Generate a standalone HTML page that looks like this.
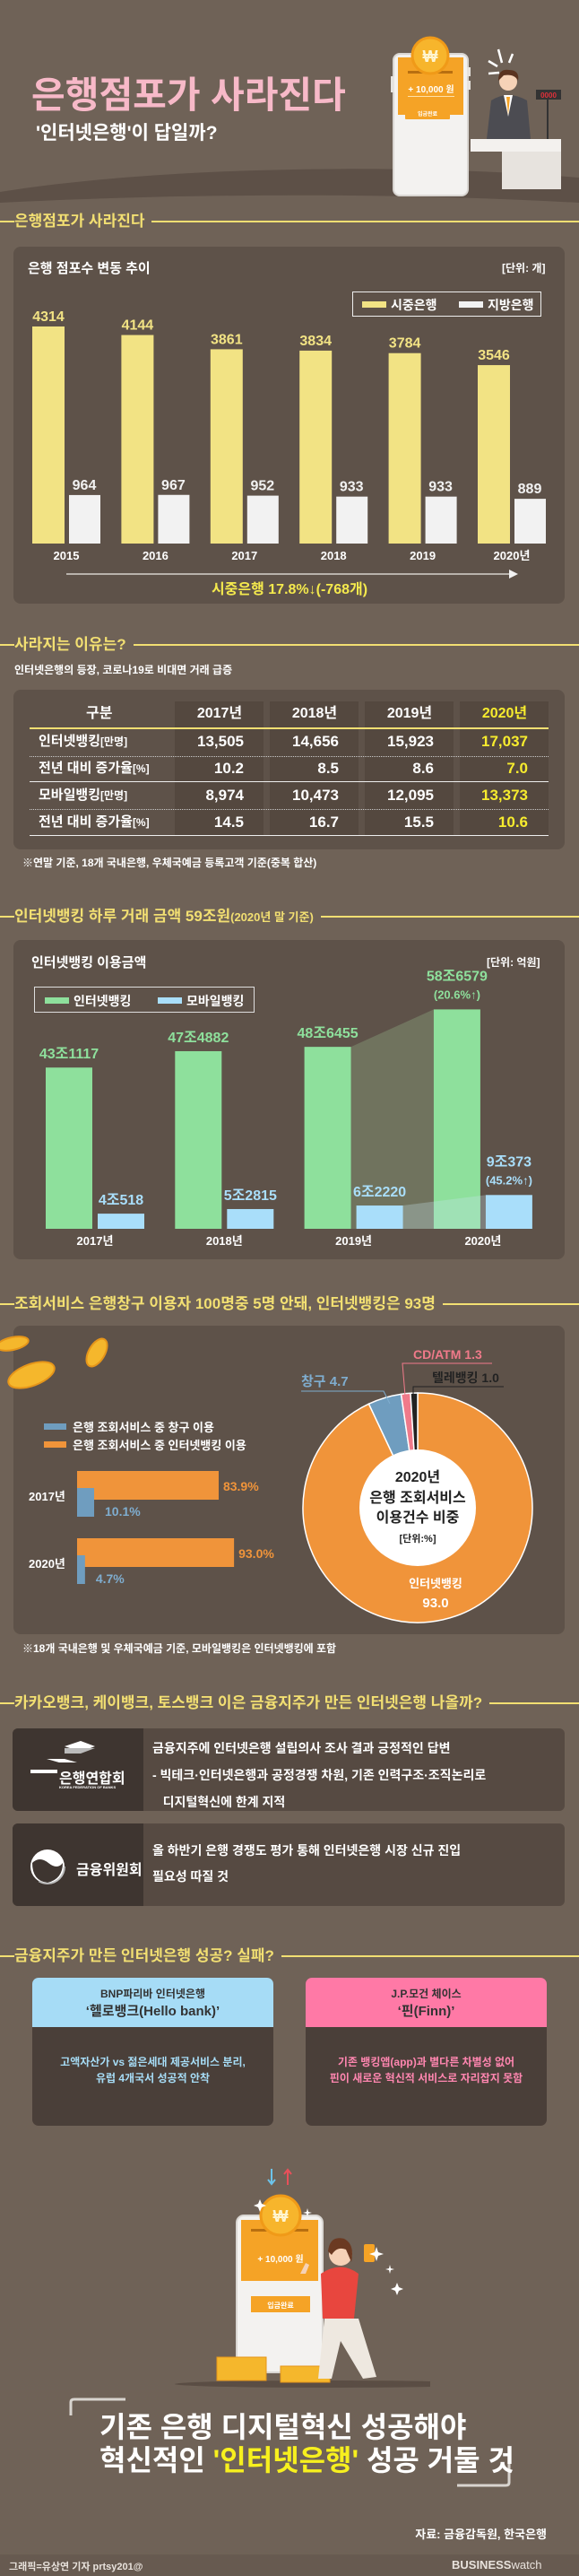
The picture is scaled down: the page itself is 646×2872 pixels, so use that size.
<!DOCTYPE html>
<html lang="ko"><head><meta charset="utf-8">
<style>
*{margin:0;padding:0;box-sizing:border-box}
body{width:646px;height:2872px;background:#6f6257;position:relative;overflow:hidden;font-family:"Liberation Sans","Noto Sans CJK KR",sans-serif;font-weight:bold;color:#fff}
.a{position:absolute}
.sh{position:absolute;left:0;width:646px;height:24px}
.sh .l1{position:absolute;left:0;top:11px;width:9px;height:2px;background:#f2df72}
.sh .t{position:absolute;left:16px;top:0;font-size:17px;color:#f2df72;white-space:nowrap;background:#6f6257;padding-right:8px;line-height:24px;z-index:2}
.sh .l2{position:absolute;left:0;right:0;top:11px;height:2px;background:#f2df72}
.panel{position:absolute;left:15px;width:615px;background:#5e5249;border-radius:8px}
.td{position:absolute;font-size:17px;line-height:20px;text-align:right;white-space:nowrap}
.lab{position:absolute;left:43px;font-size:15px;line-height:20px;white-space:nowrap}
.lab small{font-size:12px;line-height:12px}
</style></head><body>

<!-- header -->
<svg class="a" style="left:0;top:0" width="646" height="240">
<path d="M0 214 C160 188 430 180 646 198 L646 226 C430 214 200 216 0 226 Z" fill="#5d5047"/>
<rect x="439" y="60" width="83" height="158" rx="7" fill="#f3f2f0" stroke="#d9d6d2" stroke-width="2"/>
<rect x="436" y="85" width="4" height="18" fill="#e6e3df"/>
<rect x="521" y="75" width="4" height="10" fill="#e6e3df"/><rect x="521" y="90" width="4" height="10" fill="#e6e3df"/>
<rect x="444" y="64" width="73" height="64" fill="#f5a326"/>
<rect x="455" y="79" width="50" height="3" fill="#b86f10"/>
<circle cx="480" cy="62" r="20" fill="#f7b52c" stroke="#f09a18" stroke-width="3"/>
<text x="480" y="69" font-size="18" text-anchor="middle" fill="#fff5d0">₩</text>
<text x="481" y="103" font-size="10" text-anchor="middle" fill="#fff">+ 10,000 원</text>
<rect x="455" y="107" width="52" height="1" fill="#ffe1a8"/>
<rect x="452" y="119" width="50" height="14" rx="1" fill="#f5a326"/>
<text x="477" y="129" font-size="6" text-anchor="middle" fill="#fff">입금완료</text>
<path d="M556 55 l4 15 M572 60 l-4 10 M545 68 l10 6 M545 82 l12 -1" stroke="#fff" stroke-width="2.5"/>
<path d="M543 155 L548 112 Q567 100 588 112 L592 155 Z" fill="#4c4c52"/>
<path d="M562 106 L572 106 L567 130 Z" fill="#fff"/><path d="M565 108 L569 108 L567 128 Z" fill="#f5a326"/>
<circle cx="567" cy="91" r="10" fill="#f6d2b7"/>
<path d="M556 90 Q556 76 568 78 Q580 78 578 90 Q574 82 562 84 Z" fill="#5a3320"/>
<rect x="598" y="100" width="28" height="11" fill="#333"/><text x="612" y="109" font-size="8" text-anchor="middle" fill="#e0303a">0000</text>
<rect x="610" y="111" width="2" height="44" fill="#333"/>
<rect x="525" y="155" width="101" height="14" fill="#f3f1ee"/>
<rect x="560" y="169" width="66" height="42" fill="#e7e3de"/>
</svg>
<div class="a" style="left:35px;top:72px;font-size:41px;color:#f7b9c8;white-space:nowrap">은행점포가 사라진다</div>
<div class="a" style="left:40px;top:132px;font-size:21px;color:#fff;white-space:nowrap">'인터넷은행'이 답일까?</div>

<!-- section 1 -->
<div class="sh" style="top:235px"><div class="l2"></div><div class="l1"></div><div class="t">은행점포가 사라진다</div></div>
<div class="panel" style="top:275px;height:398px"></div>
<div class="a" style="left:31px;top:288px;font-size:15px">은행 점포수 변동 추이</div>
<div class="a" style="left:560px;top:290px;font-size:12px">[단위: 개]</div>
<div class="a" style="left:393px;top:325px;width:211px;height:28px;border:1px solid #eee">
 <div class="a" style="left:10px;top:10px;width:27px;height:7px;background:#f2e384"></div>
 <div class="a" style="left:42px;top:4px;font-size:14px">시중은행</div>
 <div class="a" style="left:118px;top:10px;width:27px;height:7px;background:#f2f2f2"></div>
 <div class="a" style="left:150px;top:4px;font-size:14px">지방은행</div>
</div>
<svg id="c1" class="a" style="left:0;top:275px" width="646" height="400"></svg>

<!-- section 2 -->
<div class="sh" style="top:707px"><div class="l2"></div><div class="l1"></div><div class="t">사라지는 이유는?</div></div>
<div class="a" style="left:16px;top:738px;font-size:12px">인터넷은행의 등장, 코로나19로 비대면 거래 급증</div>
<div class="panel" style="top:769px;height:178px"></div>
<div class="a" style="left:195px;top:782px;width:99px;height:150px;background:#54483f"></div>
<div class="a" style="left:301px;top:782px;width:99px;height:150px;background:#54483f"></div>
<div class="a" style="left:407px;top:782px;width:99px;height:150px;background:#54483f"></div>
<div class="a" style="left:513px;top:782px;width:99px;height:150px;background:#54483f"></div>
<div class="a" style="left:33px;top:811px;width:579px;height:2px;background:#f2df72"></div>
<div class="a" style="left:33px;top:843px;width:579px;border-top:1px dotted #ccc"></div>
<div class="a" style="left:33px;top:871px;width:579px;height:1px;background:#eee"></div>
<div class="a" style="left:33px;top:902px;width:579px;border-top:1px dotted #ccc"></div>
<div class="a" style="left:33px;top:931px;width:579px;height:1px;background:#eee"></div>
<div id="tbl"></div>
<div class="a" style="left:25px;top:953px;font-size:12px">※연말 기준, 18개 국내은행, 우체국예금 등록고객 기준(중복 합산)</div>

<!-- section 3 -->
<div class="sh" style="top:1010px"><div class="l2"></div><div class="l1"></div><div class="t">인터넷뱅킹 하루 거래 금액 59조원<span style="font-size:13px">(2020년 말 기준)</span></div></div>
<div class="panel" style="top:1048px;height:356px"></div>
<div class="a" style="left:35px;top:1062px;font-size:15px">인터넷뱅킹 이용금액</div>
<div class="a" style="left:543px;top:1064px;font-size:12px">[단위: 억원]</div>
<div class="a" style="left:38px;top:1100px;width:246px;height:29px;border:1px solid #ddd">
 <div class="a" style="left:11px;top:11px;width:27px;height:7px;background:#8ee09c"></div>
 <div class="a" style="left:43px;top:5px;font-size:14px">인터넷뱅킹</div>
 <div class="a" style="left:137px;top:11px;width:27px;height:7px;background:#a9defa"></div>
 <div class="a" style="left:169px;top:5px;font-size:14px">모바일뱅킹</div>
</div>
<svg id="c3" class="a" style="left:0;top:1048px" width="646" height="356"></svg>

<!-- section 4 -->
<div class="sh" style="top:1442px"><div class="l2"></div><div class="l1"></div><div class="t">조회서비스 은행창구 이용자 100명중 5명 안돼, 인터넷뱅킹은 93명</div></div>
<div class="panel" style="top:1478px;height:344px"></div>
<svg class="a" style="left:0;top:1478px" width="160" height="90">
<ellipse cx="14" cy="20" rx="18" ry="7" fill="#f5b72c" stroke="#e5951a" stroke-width="2" transform="rotate(-12 14 20)"/>
<ellipse cx="108" cy="30" rx="9" ry="17" fill="#f5b72c" stroke="#e5951a" stroke-width="2" transform="rotate(30 108 30)"/>
<ellipse cx="35" cy="55" rx="27" ry="12" fill="#f5b72c" stroke="#e5951a" stroke-width="2" transform="rotate(-20 35 55)"/>
</svg>
<div class="a" style="left:49px;top:1587px;width:25px;height:7px;background:#6f9dbf"></div>
<div class="a" style="left:81px;top:1581px;font-size:13px">은행 조회서비스 중 창구 이용</div>
<div class="a" style="left:49px;top:1607px;width:25px;height:7px;background:#f0943a"></div>
<div class="a" style="left:81px;top:1601px;font-size:13px">은행 조회서비스 중 인터넷뱅킹 이용</div>
<svg id="c4" class="a" style="left:0;top:1478px" width="646" height="344"></svg>
<div class="a" style="left:25px;top:1829px;font-size:12px">※18개 국내은행 및 우체국예금 기준, 모바일뱅킹은 인터넷뱅킹에 포함</div>

<!-- section 5 -->
<div class="sh" style="top:1887px"><div class="l2"></div><div class="l1"></div><div class="t">카카오뱅크, 케이뱅크, 토스뱅크 이은 금융지주가 만든 인터넷은행 나올까?</div></div>
<div class="a" style="left:14px;top:1927px;width:616px;height:92px;background:#564a42;border-radius:6px;overflow:hidden">
 <div class="a" style="left:0;top:0;width:146px;height:92px;background:#3e3530"></div>
 <svg class="a" style="left:0;top:0" width="146" height="92"><path d="M58 20 l18 -6 l16 6 l-16 6z" fill="#fff"/><path d="M58 22 l0 6 l18 0 l16 -6" fill="#bbb"/><path d="M38 34 l20 0 l14 4 l-20 0z" fill="#fff"/><path d="M20 46 l30 0 l0 4 l-30 0z" fill="#fff"/></svg>
 <div class="a" style="left:52px;top:42px;font-size:16px;white-space:nowrap">은행연합회</div>
 <div class="a" style="left:52px;top:63px;font-size:4px;white-space:nowrap">KOREA FEDERATION OF BANKS</div>
 <div class="a" style="left:156px;top:7px;font-size:14px;line-height:30px;white-space:nowrap">금융지주에 인터넷은행 설립의사 조사 결과 긍정적인 답변<br>- 빅테크·인터넷은행과 공정경쟁 차원, 기존 인력구조·조직논리로<br>&nbsp;&nbsp;&nbsp;디지털혁신에 한계 지적</div>
</div>
<div class="a" style="left:14px;top:2033px;width:616px;height:92px;background:#564a42;border-radius:6px;overflow:hidden">
 <div class="a" style="left:0;top:0;width:146px;height:92px;background:#3e3530"></div>
 <svg class="a" style="left:0;top:0" width="146" height="92"><circle cx="39" cy="48" r="19" fill="#fff"/><path d="M22 44 Q30 36 40 44 Q50 52 56 44 Q56 62 39 66 Q22 64 22 44Z" fill="#3e3530"/><circle cx="39" cy="48" r="19" fill="none" stroke="#bbb" stroke-width="2" stroke-dasharray="40 80"/></svg>
 <div class="a" style="left:71px;top:38px;font-size:16px;white-space:nowrap">금융위원회</div>
 <div class="a" style="left:156px;top:16px;font-size:14px;line-height:29px;white-space:nowrap">올 하반기 은행 경쟁도 평가 통해 인터넷은행 시장 신규 진입<br>필요성 따질 것</div>
</div>

<!-- section 6 -->
<div class="sh" style="top:2169px"><div class="l2"></div><div class="l1"></div><div class="t">금융지주가 만든 인터넷은행 성공? 실패?</div></div>
<div class="a" style="left:36px;top:2205px;width:269px;height:165px;border-radius:7px;background:#4a3f39;overflow:hidden">
 <div class="a" style="left:0;top:0;width:269px;height:55px;background:#a6dcf6;color:#333;text-align:center;font-size:12px;padding-top:8px;line-height:20px">BNP파리바 인터넷은행<br><span style="font-size:15px">‘헬로뱅크(Hello bank)’</span></div>
 <div class="a" style="left:0;top:85px;width:269px;text-align:center;font-size:12px;line-height:18px;color:#a6dcf6">고액자산가 vs 젊은세대 제공서비스 분리,<br>유럽 4개국서 성공적 안착</div>
</div>
<div class="a" style="left:341px;top:2205px;width:269px;height:165px;border-radius:7px;background:#4a3f39;overflow:hidden">
 <div class="a" style="left:0;top:0;width:269px;height:55px;background:#ff79a6;color:#333;text-align:center;font-size:12px;padding-top:8px;line-height:20px">J.P.모건 체이스<br><span style="font-size:15px">‘핀(Finn)’</span></div>
 <div class="a" style="left:0;top:85px;width:269px;text-align:center;font-size:12px;line-height:18px;color:#ff86b0">기존 뱅킹앱(app)과 별다른 차별성 없어<br>핀이 새로운 혁신적 서비스로 자리잡지 못함</div>
</div>

<svg class="a" style="left:180px;top:2410px" width="300" height="260">
<ellipse cx="185" cy="248" rx="170" ry="4" fill="#5a4d44"/>
<path d="M123 8 v16 M119 20 l4 5 l4 -5" stroke="#6cc3ea" stroke-width="2" fill="none"/>
<path d="M141 26 v-16 M137 14 l4 -5 l4 5" stroke="#e8505a" stroke-width="2" fill="none"/>
<rect x="84" y="60" width="96" height="175" rx="8" fill="#f3f2f0" stroke="#d9d6d2" stroke-width="2"/>
<rect x="89" y="65" width="86" height="68" fill="#f5a326"/>
<rect x="100" y="75" width="64" height="3" fill="#b86f10"/>
<circle cx="133" cy="60" r="22" fill="#f7b52c" stroke="#f09a18" stroke-width="3"/>
<text x="133" y="67" font-size="18" text-anchor="middle" fill="#fff5d0">₩</text>
<text x="133" y="112" font-size="10" text-anchor="middle" fill="#fff">+ 10,000 원</text>
<rect x="100" y="150" width="66" height="18" fill="#f5a326"/>
<text x="133" y="163" font-size="8" text-anchor="middle" fill="#fff">입금완료</text>
<rect x="62" y="218" width="55" height="26" fill="#f5b72c" stroke="#e5951a"/>
<rect x="133" y="228" width="55" height="18" fill="#f5b72c" stroke="#e5951a"/>
<path d="M178 125 Q200 110 220 125 L215 175 L180 175 Z" fill="#e8463e"/>
<path d="M182 175 L220 175 L240 240 L225 242 L200 200 L190 242 L175 242 Z" fill="#eee8e0"/>
<circle cx="200" cy="103" r="13" fill="#f6d2b7"/>
<path d="M186 100 Q188 82 204 86 Q216 92 212 112 L206 98 Q196 94 190 104 Z" fill="#6b3a22"/>
<rect x="226" y="92" width="12" height="20" rx="2" fill="#f5a326"/>
<path d="M155 125 l6 -12 l4 2 l-4 10 z" fill="#f6d2b7"/>
<path d="M240 95 l2 6 l6 2 l-6 2 l-2 6 l-2 -6 l-6 -2 l6 -2z M255 115 l1 4 l4 1 l-4 1 l-1 4 l-1 -4 l-4 -1 l4 -1z M263 135 l2 5 l5 2 l-5 2 l-2 5 l-2 -5 l-5 -2 l5 -2z M110 42 l2 5 l5 2 l-5 2 l-2 5 l-2 -5 l-5 -2 l5 -2z M163 52 l1 4 l4 1 l-4 1 l-1 4 l-1 -4 l-4 -1 l4 -1z" fill="#fff"/>
</svg>
<svg class="a" style="left:0;top:2670px" width="646" height="110">
<path d="M79 23 V8 Q79 5 83 5 H140" stroke="#d8d4cf" stroke-width="3" fill="none"/>
<path d="M568 74 V98 Q568 101 564 101 H510" stroke="#d8d4cf" stroke-width="3" fill="none"/>
</svg>
<div class="a" style="left:111px;top:2688px;font-size:32px;line-height:37px;white-space:nowrap">기존 은행 디지털혁신 성공해야<br>혁신적인 <span style="color:#f7f01e">'인터넷은행'</span> 성공 거둘 것</div>
<div class="a" style="left:450px;top:2815px;width:160px;text-align:right;font-size:13px">자료: 금융감독원, 한국은행</div>
<div class="a" style="left:0;top:2848px;width:646px;height:24px;background:#675a50"></div>
<div class="a" style="left:10px;top:2853px;font-size:11px;color:#e8e2dc">그래픽=유상연 기자 prtsy201@</div>
<div class="a" style="left:504px;top:2852px;font-size:13px;color:#e8e2dc;white-space:nowrap">BUSINESS<span style="font-weight:normal">watch</span></div>

<script>
const NS='http://www.w3.org/2000/svg';
function mk(svg,tag,attrs,txt){const e=document.createElementNS(NS,tag);for(const k in attrs)e.setAttribute(k,attrs[k]);if(txt!==undefined)e.textContent=txt;svg.appendChild(e);return e;}

// chart 1 data
const years1=['2015','2016','2017','2018','2019','2020년'];
const cityBranches=[4314,4144,3861,3834,3784,3546];
const localBranches=[964,967,952,933,933,889];
(function(){
 const s=document.getElementById('c1');const base=331,k=0.0561,x0=36,step=99.4;
 const y=v=>base-v*k;
 years1.forEach((yr,i)=>{
  const gx=x0+i*step;
  const b1=mk(s,'rect',{x:gx,y:y(cityBranches[i]),width:36,height:cityBranches[i]*k,fill:'#f2e384'});
  
  
  const b2=mk(s,'rect',{x:gx+41,y:y(localBranches[i]),width:35,height:localBranches[i]*k,fill:'#f2f2f2'});
  
  
  const t1=mk(s,'text',{x:gx+18,y:y(cityBranches[i])-6,'font-size':16,'text-anchor':'middle',fill:'#f2e384'},String(cityBranches[i]));
  
  
  const t2=mk(s,'text',{x:gx+58,y:y(localBranches[i])-6,'font-size':16,'text-anchor':'middle',fill:'#f2f2f2'},String(localBranches[i]));
  
  
  const t3=mk(s,'text',{x:gx+38,y:349,'font-size':13,'text-anchor':'middle',fill:'#fff'},yr);
  
  
 });
 mk(s,'line',{x1:74,y1:365,x2:570,y2:365,stroke:'#d6d1cc','stroke-width':1.5});
 mk(s,'path',{d:'M568 360 L578 365 L568 370 Z',fill:'#f2f2f2'});
 const n=mk(s,'text',{x:323,y:387,'font-size':16,'text-anchor':'middle',fill:'#f4e94d'},'시중은행 17.8%↓(-768개)');
 
 
})();

// table
const tHeaders=['2017년','2018년','2019년','2020년'];
const tLabels=['인터넷뱅킹<small>[만명]</small>','전년 대비 증가율<small>[%]</small>','모바일뱅킹<small>[만명]</small>','전년 대비 증가율<small>[%]</small>'];
const tRows=[['13,505','14,656','15,923','17,037'],['10.2','8.5','8.6','7.0'],['8,974','10,473','12,095','13,373'],['14.5','16.7','15.5','10.6']];
(function(){
 const T=document.getElementById('tbl');const rowY=[827,857,887,917];const right=[272,378,484,589];const ctr=[245,351,457,563];
 const h=document.createElement('div');h.className='a';h.style.cssText='left:96px;top:786px;font-size:16px;line-height:20px';h.textContent='구분';T.appendChild(h);
 
 
 tHeaders.forEach((t,j)=>{const d=document.createElement('div');d.className='a';d.style.cssText='left:'+(ctr[j]-40)+'px;width:80px;text-align:center;top:786px;font-size:16px;line-height:20px;color:'+(j==3?'#f7ec2e':'#fff');d.textContent=t;T.appendChild(d);
  
  });
 tLabels.forEach((l,i)=>{const d=document.createElement('div');d.className='lab';d.style.top=(rowY[i]-10)+'px';d.innerHTML=l;T.appendChild(d);
  
  
  tRows[i].forEach((v,j)=>{const c=document.createElement('div');c.className='td';c.style.cssText='left:'+(right[j]-90)+'px;width:90px;top:'+(rowY[i]-10)+'px;color:'+(j==3?'#f7ec2e':'#fff');c.textContent=v;T.appendChild(c);
   
   });});
})();

// chart 3 data
const years3=['2017년','2018년','2019년','2020년'];
const internetAmt=[431117,474882,486455,586579];
const mobileAmt=[40518,52815,62220,90373];
const internetLbl=['43조1117','47조4882','48조6455','58조6579'];
const mobileLbl=['4조518','5조2815','6조2220','9조373'];
(function(){
 const s=document.getElementById('c3');const base=322,k=0.000417,x0=51,step=144.3;
 const y=v=>base-v*k;
 const g3=x0+2*step,g4=x0+3*step;
 mk(s,'path',{d:`M${g3+52} ${y(internetAmt[2])} L${g4} ${y(internetAmt[3])} L${g4} ${base} L${g3+52} ${base} Z`,fill:'rgba(160,200,150,0.28)'});
 years3.forEach((yr,i)=>{
  const gx=x0+i*step;
  const b1=mk(s,'rect',{x:gx,y:y(internetAmt[i]),width:52,height:internetAmt[i]*k,fill:'#8ee09c'});
  
  
  const b2=mk(s,'rect',{x:gx+58,y:y(mobileAmt[i]),width:52,height:mobileAmt[i]*k,fill:'#a9defa'});
  
  
  const lastOff=i==3?22:0;
  const t1=mk(s,'text',{x:gx+26,y:y(internetAmt[i])-10-lastOff,'font-size':16,'text-anchor':'middle',fill:'#8ee09c'},internetLbl[i]);
  
  
  const t2=mk(s,'text',{x:gx+84,y:y(mobileAmt[i])-10-lastOff,'font-size':16,'text-anchor':'middle',fill:'#a9defa'},mobileLbl[i]);
  
  
  const t3=mk(s,'text',{x:gx+55,y:340,'font-size':13,'text-anchor':'middle',fill:'#fff'},yr);
  
  
 });
 mk(s,'path',{d:`M${g3+110} ${y(mobileAmt[2])} L${g4+58} ${y(mobileAmt[3])} L${g4+58} ${base} L${g3+110} ${base} Z`,fill:'rgba(200,230,240,0.3)'});
 const p1=mk(s,'text',{x:g4+26,y:y(internetAmt[3])-12,'font-size':13,'text-anchor':'middle',fill:'#8ee09c'},'(20.6%↑)');
 
 
 const p2=mk(s,'text',{x:g4+84,y:y(mobileAmt[3])-12,'font-size':13,'text-anchor':'middle',fill:'#a9defa'},'(45.2%↑)');
 
 
})();

// chart 4 data
const hbarYears=['2017년','2020년'];
const internetShare=[83.9,93.0];
const counterShare=[10.1,4.7];
const pieLabels=['인터넷뱅킹','창구','CD/ATM','텔레뱅킹'];
const pieValues=[93.0,4.7,1.3,1.0];
const pieColors=['#f0943a','#6f9dbf','#f07a8a','#222222'];
(function(){
 const s=document.getElementById('c4');const x0=86,k=1.883;const rowTop=[162,237];
 hbarYears.forEach((yr,i)=>{
  const r=rowTop[i];
  const o=mk(s,'rect',{x:x0,y:r,width:internetShare[i]*k,height:32,fill:'#f0943a'});
  
  
  const b=mk(s,'rect',{x:x0,y:r+19,width:counterShare[i]*k,height:32,fill:'#6f9dbf'});
  
  
  const t1=mk(s,'text',{x:x0+internetShare[i]*k+5,y:r+22,'font-size':14,fill:'#f0943a'},internetShare[i].toFixed(1)+'%');
  
  
  const t2=mk(s,'text',{x:x0+counterShare[i]*k+12,y:r+50,'font-size':14,fill:'#7fadcf'},counterShare[i].toFixed(1)+'%');
  
  
  const t3=mk(s,'text',{x:32,y:r+33,'font-size':13,fill:'#fff'},yr);
  
  
 });
 const cx=466,cy=203,R=128,r0=65;const tot=pieValues.reduce((a,b)=>a+b,0);let a=-Math.PI/2;
 pieValues.forEach((v,i)=>{
  const a2=a+v/tot*2*Math.PI;const lg=(a2-a)>Math.PI?1:0;
  const d=`M${cx} ${cy} L${cx+R*Math.cos(a)} ${cy+R*Math.sin(a)} A${R} ${R} 0 ${lg} 1 ${cx+R*Math.cos(a2)} ${cy+R*Math.sin(a2)} Z`;
  const p=mk(s,'path',{d:d,fill:pieColors[i],stroke:'#fff','stroke-width':1.5});
  
  
  a=a2;
 });
 mk(s,'circle',{cx:cx,cy:cy,r:r0,fill:'#fff'});
 [['2020년',-29,16],['은행 조회서비스',-6,16],['이용건수 비중',16,16],['[단위:%]',38,11]].forEach(t=>{mk(s,'text',{x:cx,y:cy+t[1],'font-size':t[2],'text-anchor':'middle',fill:'#222'},t[0]);});
 const il=mk(s,'text',{x:486,y:292,'font-size':13,'text-anchor':'middle',fill:'#fff'},pieLabels[0]);
 
 
 mk(s,'text',{x:486,y:314,'font-size':15,'text-anchor':'middle',fill:'#fff'},pieValues[0].toFixed(1));
 mk(s,'path',{d:'M336 73 L428 73 L435 87',stroke:'#7fadcf',fill:'none'});
 const l1=mk(s,'text',{x:336,y:67,'font-size':15,fill:'#7fadcf'},pieLabels[1]+' '+pieValues[1].toFixed(1));
 
 
 mk(s,'path',{d:'M549 42 L449 42 L452 78',stroke:'#f07a8a',fill:'none'});
 const l2=mk(s,'text',{x:461,y:37,'font-size':14,fill:'#f07a8a'},pieLabels[2]+' '+pieValues[2].toFixed(1));
 
 
 mk(s,'path',{d:'M562 68 L461 68 L461 78',stroke:'#222',fill:'none'});
 const l3=mk(s,'text',{x:482,y:63,'font-size':14,fill:'#222'},pieLabels[3]+' '+pieValues[3].toFixed(1));
 
 
})();
</script>
</body></html>
